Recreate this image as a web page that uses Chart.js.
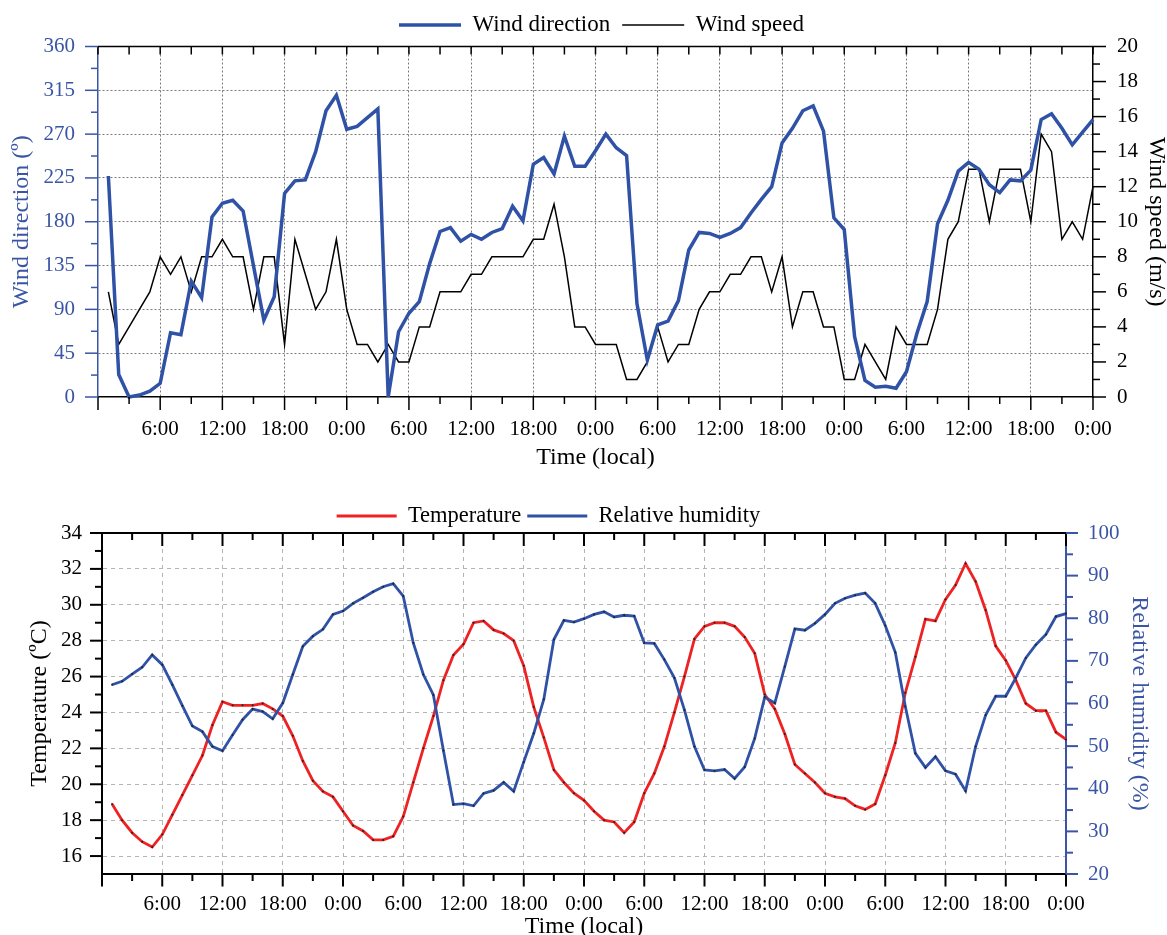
<!DOCTYPE html>
<html>
<head>
<meta charset="utf-8">
<title>Wind, temperature and relative humidity</title>
<script src="https://cdn.jsdelivr.net/npm/chart.js@4.4.1/dist/chart.umd.min.js"></script>
<style>
  html, body { margin: 0; padding: 0; background: #fff; overflow: hidden; }
  .panel { position: absolute; left: 0; width: 1167px; }
  #top { top: 0; height: 470px; }
  #bottom { top: 480px; height: 465px; }
</style>
</head>
<body>
<div class="panel" id="top"><canvas id="windChart"></canvas></div>
<div class="panel" id="bottom"><canvas id="climateChart"></canvas></div>
<script>
// hourly readings, first one at 1:00 of day 1, last one at 0:00 after day 4
const windDirection = [
	227, 23, 0, 2, 6, 14, 66, 64, 119, 102, 185, 199,
	202, 191, 135, 79, 103, 209, 222, 223, 252, 294, 310, 275,
	278, 287, 296, 0, 67, 86, 98, 137, 170, 174, 160, 167,
	162, 169, 173, 196, 181, 239, 246, 229, 268, 237, 237, 253,
	270, 256, 248, 96, 38, 74, 78, 99, 151, 169, 168, 164,
	168, 174, 189, 203, 216, 261, 276, 294, 299, 273, 184, 172,
	62, 17, 10, 11, 9, 26, 65, 98, 178, 202, 232, 241,
	234, 218, 210, 223, 222, 233, 285, 291, 276, 259, 272, 285,
];
const windSpeed = [
	6, 3, 4, 5, 6, 8, 7, 8, 6, 8, 8, 9,
	8, 8, 5, 8, 8, 3, 9, 7, 5, 6, 9, 5,
	3, 3, 2, 3, 2, 2, 4, 4, 6, 6, 6, 7,
	7, 8, 8, 8, 8, 9, 9, 11, 8, 4, 4, 3,
	3, 3, 1, 1, 2, 4, 2, 3, 3, 5, 6, 6,
	7, 7, 8, 8, 6, 8, 4, 6, 6, 4, 4, 1,
	1, 3, 2, 1, 4, 3, 3, 3, 5, 9, 10, 13,
	13, 10, 13, 13, 13, 10, 15, 14, 9, 10, 9, 12,
];
const temperature = [
	18.9, 18.0, 17.3, 16.8, 16.5, 17.2, 18.3, 19.4, 20.5, 21.6, 23.3, 24.6,
	24.4, 24.4, 24.4, 24.5, 24.2, 23.8, 22.7, 21.3, 20.2, 19.6, 19.3, 18.5,
	17.7, 17.4, 16.9, 16.9, 17.1, 18.2, 20.1, 22.0, 23.8, 25.8, 27.2, 27.8,
	29.0, 29.1, 28.6, 28.4, 28.0, 26.6, 24.3, 22.6, 20.8, 20.1, 19.5, 19.1,
	18.5, 18.0, 17.9, 17.3, 17.9, 19.5, 20.6, 22.1, 24.0, 26.0, 28.1, 28.8,
	29.0, 29.0, 28.8, 28.2, 27.3, 25.0, 24.2, 22.8, 21.1, 20.6, 20.1, 19.5,
	19.3, 19.2, 18.8, 18.6, 18.9, 20.5, 22.3, 25.1, 27.1, 29.2, 29.1, 30.3,
	31.1, 32.3, 31.3, 29.7, 27.7, 26.9, 25.8, 24.5, 24.1, 24.1, 22.9, 22.5,
];
const humidity = [
	64.4, 65.2, 66.9, 68.5, 71.4, 69.1, 64.4, 59.5, 54.7, 53.4, 49.9, 48.9,
	52.6, 56.2, 58.7, 58.1, 56.4, 60.1, 66.8, 73.4, 75.8, 77.4, 80.9, 81.7,
	83.5, 84.8, 86.2, 87.4, 88.1, 85.2, 74.2, 66.8, 62.0, 49.0, 36.3, 36.5,
	36.0, 38.9, 39.6, 41.5, 39.4, 46.3, 53.0, 61.0, 75.0, 79.5, 79.1, 79.9,
	80.9, 81.5, 80.3, 80.7, 80.5, 74.2, 74.1, 70.3, 66.0, 58.5, 49.9, 44.4,
	44.2, 44.5, 42.4, 45.1, 51.8, 61.5, 60.1, 68.7, 77.5, 77.2, 78.8, 80.9,
	83.5, 84.7, 85.4, 85.9, 83.5, 78.3, 72.0, 59.3, 48.3, 45.0, 47.5, 44.2,
	43.4, 39.5, 49.9, 57.3, 61.7, 61.7, 66.0, 70.7, 73.8, 76.2, 80.4, 81.1,
];
const hours = windDirection.map((v, i) => i + 1);

const timeTicks = [0, 6, 12, 18, 24, 30, 36, 42, 48, 54, 60, 66, 72, 78, 84, 90, 96];
const clockLabels = ["0:00", "6:00", "12:00", "18:00"];
const dirTicks = [0, 45, 90, 135, 180, 225, 270, 315, 360];
const speedTicks = [0, 2, 4, 6, 8, 10, 12, 14, 16, 18, 20];
const tempTicks = [16, 18, 20, 22, 24, 26, 28, 30, 32, 34];
const humidityTicks = [20, 30, 40, 50, 60, 70, 80, 90, 100];

const BLUE = "#2f52a6";
const BLUE_TEXT = "#3a55a5";
const RED = "#ee2222";

Chart.defaults.font.family = "'Liberation Serif', 'Times New Roman', serif";
Chart.defaults.color = "#000";

const pts = (values) => values.map((v, i) => ({ x: hours[i], y: v }));
const fixTicks = (list) => (scale) => {
	scale.ticks = list.map((v) => ({ value: v }));
};
const fixSize = (size) => (scale) => {
	if (scale.isHorizontal()) scale.height = size;
	else scale.width = size;
};

// tick marks (major + minor), top edge of the frame, legend nudge
const axisFrame = {
	id: "axisFrame",
	afterLayout(chart, args, opts) {
		chart.legend.left += opts.legendShift;
		chart.legend.right += opts.legendShift;
	},
	afterDraw(chart, args, opts) {
		const { ctx, chartArea: area, scales } = chart;
		const stroke = (color, x1, y1, x2, y2) => {
			ctx.strokeStyle = color;
			ctx.beginPath();
			ctx.moveTo(x1, y1);
			ctx.lineTo(x2, y2);
			ctx.stroke();
		};
		ctx.save();
		ctx.lineWidth = opts.width;
		stroke("#000", area.left, area.top, area.right, area.top);

		const xs = scales.x;
		const xv = xs.ticks.map((t) => t.value);
		xv.forEach((v, i) => {
			const px = xs.getPixelForValue(v);
			stroke("#000", px, area.bottom, px, area.bottom + opts.xMajor);
			stroke("#000", px, area.top, px, area.top + opts.topMajor);
			if (i < xv.length - 1) {
				const pm = xs.getPixelForValue((v + xv[i + 1]) / 2);
				stroke("#000", pm, area.bottom, pm, area.bottom + opts.xMinor);
				stroke("#000", pm, area.top, pm, area.top + opts.topMinor);
			}
		});

		[scales.y, scales.y1].forEach((s) => {
			const sign = s.position === "left" ? -1 : 1;
			const x0 = sign < 0 ? area.left : area.right;
			const col = s.options.border.color;
			const vals = s.ticks.map((t) => t.value);
			vals.forEach((v, i) => {
				const py = s.getPixelForValue(v);
				stroke(col, x0, py, x0 + sign * opts.yMajor, py);
				if (i < vals.length - 1) {
					const pm = s.getPixelForValue((v + vals[i + 1]) / 2);
					stroke(col, x0, pm, x0 + sign * opts.yMinor, pm);
				}
			});
		});
		ctx.restore();
	},
};

function timeAxis(height, labelPad, titlePad, gridColor, dash, borderWidth) {
	return {
		type: "linear",
		min: 0,
		max: 96,
		afterBuildTicks: fixTicks(timeTicks),
		afterFit: fixSize(height),
		ticks: {
			padding: labelPad,
			maxRotation: 0,
			autoSkip: false,
			font: { size: 21 },
			color: "#000",
			callback: (v) => (v === 0 ? "" : clockLabels[(v % 24) / 6]),
		},
		grid: {
			drawTicks: false,
			lineWidth: 1,
			color: (c) => (c.tick && (c.tick.value === 0 || c.tick.value === 96) ? "transparent" : gridColor),
		},
		border: { color: "#000", width: borderWidth, dash: dash },
		title: {
			display: true,
			text: "Time (local)",
			color: "#000",
			font: { size: 24, lineHeight: 1 },
			padding: { top: 0, bottom: titlePad },
		},
	};
}

function valueAxis(o) {
	return {
		type: "linear",
		position: o.position,
		min: o.min,
		max: o.max,
		afterBuildTicks: fixTicks(o.ticks),
		afterFit: fixSize(o.width),
		ticks: { padding: o.labelPad, color: o.color, font: { size: 21 } },
		grid: {
			drawOnChartArea: !!o.gridColor,
			drawTicks: false,
			lineWidth: 1,
			color: (c) => (c.tick && (c.tick.value === o.min || c.tick.value === o.max) ? "transparent" : o.gridColor || "transparent"),
		},
		border: { color: o.color, width: o.borderWidth, dash: o.dash },
		title: {
			display: true,
			text: o.title,
			color: o.color,
			font: { size: 24, lineHeight: o.titleLine || 1 },
			padding: { top: o.titlePad, bottom: 0 },
		},
	};
}

// legend samples take the line's own colour and width, in dataset order
function legendOpts(size, pad, lineLen, maxHeight) {
	return {
		position: "top",
		maxHeight: maxHeight,
		labels: {
			usePointStyle: true,
			pointStyle: "line",
			pointStyleWidth: lineLen,
			padding: pad,
			color: "#000",
			font: { size: size },
			sort: (a, b) => a.datasetIndex - b.datasetIndex,
			generateLabels: (chart) =>
				Chart.defaults.plugins.legend.labels.generateLabels(chart).map((item) => {
					const ds = chart.data.datasets[item.datasetIndex];
					item.lineWidth = ds.borderWidth;
					item.strokeStyle = ds.borderColor;
					return item;
				}),
		},
	};
}

const TOP_GRID = "#7a7a7a";
const BOTTOM_GRID = "#b4b4b4";

new Chart(document.getElementById("windChart"), {
	type: "line",
	data: {
		datasets: [
			{
				label: "Wind direction",
				data: pts(windDirection),
				yAxisID: "y",
				borderColor: BLUE,
				backgroundColor: BLUE,
				borderWidth: 3.5,
				pointRadius: 0,
				clip: false,
			},
			{
				label: "Wind speed",
				data: pts(windSpeed),
				yAxisID: "y1",
				borderColor: "#000",
				backgroundColor: "#000",
				borderWidth: 1.5,
				pointRadius: 0,
				clip: false,
			},
		],
	},
	options: {
		responsive: true,
		maintainAspectRatio: false,
		animation: false,
		devicePixelRatio: 1,
		layout: { padding: { top: 1.5, left: 0, right: 0, bottom: 0 } },
		scales: {
			x: timeAxis(73, 20, 0, TOP_GRID, [2, 2], 1.5),
			y: valueAxis({
				position: "left", min: 0, max: 360, ticks: dirTicks, width: 98, labelPad: 23,
				color: BLUE_TEXT, gridColor: TOP_GRID, dash: [2, 2], borderWidth: 1.5,
				title: "Wind direction (º)", titlePad: 10,
			}),
			y1: valueAxis({
				position: "right", min: 0, max: 20, ticks: speedTicks, width: 74, labelPad: 24,
				color: "#000", borderWidth: 1.5, title: "Wind speed (m/s)", titlePad: 0, titleLine: 0.9,
			}),
		},
		plugins: {
			legend: legendOpts(23, 12, 62, undefined),
			tooltip: { enabled: false },
			axisFrame: {
				width: 1.5, legendShift: 18,
				xMajor: 13, xMinor: 7, topMajor: 8, topMinor: 8, yMajor: 13, yMinor: 7,
			},
		},
	},
	plugins: [axisFrame],
});

new Chart(document.getElementById("climateChart"), {
	type: "line",
	data: {
		datasets: [
			{
				label: "Temperature",
				data: pts(temperature),
				yAxisID: "y",
				order: 1,
				borderColor: RED,
				backgroundColor: RED,
				borderWidth: 2.8,
				pointRadius: 1,
				pointBackgroundColor: "#222",
				pointBorderWidth: 0,
				clip: false,
			},
			{
				label: "Relative humidity",
				data: pts(humidity),
				yAxisID: "y1",
				order: 0,
				borderColor: BLUE,
				backgroundColor: BLUE,
				borderWidth: 2.8,
				pointRadius: 1,
				pointBackgroundColor: "#222",
				pointBorderWidth: 0,
				clip: false,
			},
		],
	},
	options: {
		responsive: true,
		maintainAspectRatio: false,
		animation: false,
		devicePixelRatio: 1,
		layout: { padding: { top: 18.75, left: 0, right: 0, bottom: 0 } },
		scales: {
			x: timeAxis(71, 18, 6, BOTTOM_GRID, [4, 4], 2),
			y: valueAxis({
				position: "left", min: 15, max: 34, ticks: tempTicks, width: 102, labelPad: 20,
				color: "#000", gridColor: BOTTOM_GRID, dash: [4, 4], borderWidth: 2,
				title: "Temperature (ºC)", titlePad: 28,
			}),
			y1: valueAxis({
				position: "right", min: 20, max: 100, ticks: humidityTicks, width: 101, labelPad: 22,
				color: BLUE_TEXT, borderWidth: 2, title: "Relative humidity (%)", titlePad: 17, titleLine: 0.9,
			}),
		},
		plugins: {
			legend: legendOpts(22.5, 6, 60, 34.25),
			tooltip: { enabled: false },
			axisFrame: {
				width: 2, legendShift: -35,
				xMajor: 12.5, xMinor: 7, topMajor: 13, topMinor: 7, yMajor: 12, yMinor: 7,
			},
		},
	},
	plugins: [axisFrame],
});
</script>
</body>
</html>
